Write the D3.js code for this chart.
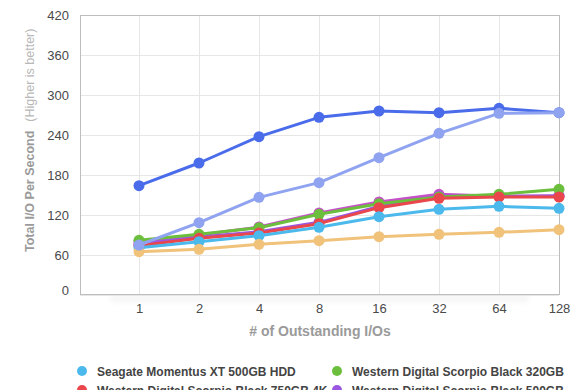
<!DOCTYPE html>
<html><head><meta charset="utf-8">
<script src="https://cdn.jsdelivr.net/npm/d3@7"></script>
<style>
html,body{margin:0;padding:0;background:#fff;}
svg{display:block;font-family:"Liberation Sans",Arial,Helvetica,sans-serif;}
</style></head>
<body><svg id="c" width="580" height="390"></svg>
<script>
const categories = ["1","2","4","8","16","32","64","128"];
const yTicks = [0,60,120,180,240,300,360,420];
const seriesNames = [
  "Seagate Momentus XT 500GB HDD",
  "Western Digital Scorpio Black 320GB",
  "Western Digital Scorpio Black 750GB 4K",
  "Western Digital Scorpio Black 500GB",
  "Seagate Momentus 7200.4 500GB",
  "Hitachi Travelstar 7K500 500GB",
  "Seagate Momentus XT 750GB SSHD",
  "Seagate Momentus XT 750GB (OS Cache)"
];
const seriesColors = ["#4cb9ec","#6cbf3c","#e9474b","#9b57e2","#f0c27a","#c64fca","#4a6cea","#8fa3f0"];
const seagateXT500 = [71, 80, 89, 101.5, 117.5, 128.5, 133, 130];
const wdBlack320   = [82, 91, 101, 121, 137, 147, 151, 158.5];
const wdBlack750   = [74, 85, 93, 107, 131, 145, 147, 147];
const wdBlack500   = [76, 87, 95, 109, 133, 148, 148, 149];
const momentus7200 = [65, 68.5, 76, 81.5, 87.5, 91, 94, 98];
const travelstar   = [80, 90, 102, 123, 139.5, 151, 148, 148];
const xt750        = [164, 198, 237.5, 266.5, 276, 273.5, 280, 273.5];
const xt750cache   = [75, 108.5, 146.5, 168.5, 206, 242.5, 272.5, 273.5];
const seriesValues = [seagateXT500, wdBlack320, wdBlack750, wdBlack500, momentus7200, travelstar, xt750, xt750cache];
const drawOrder = [5,3,1,2,0,4,6,7];

const svg = d3.select("#c");
const L=80, R=559, T=15, B=295;
const x = d3.scalePoint().domain(categories).range([139, 559]);
const y = d3.scaleLinear().domain([0,420]).range([B, T]);

// faint shadow under plot
const defs = svg.append("defs");
defs.append("filter").attr("id","blur").attr("x","-10%").attr("y","-200%").attr("width","120%").attr("height","500%")
  .append("feGaussianBlur").attr("stdDeviation","3");
svg.append("rect").attr("x",L+30).attr("y",B+1).attr("width",R-L-60).attr("height",5)
  .attr("fill","#000").attr("opacity",0.06).attr("filter","url(#blur)");

svg.append("rect").attr("x",L).attr("y",T).attr("width",R-L).attr("height",B-T).attr("fill","#fff");

// grid
const g = svg.append("g");
g.selectAll("line.h").data(yTicks).join("line")
  .attr("x1",L).attr("x2",R).attr("y1",d=>y(d)+0.5).attr("y2",d=>y(d)+0.5)
  .attr("stroke","#e6e6e6").attr("stroke-width",1);
g.selectAll("line.v").data(categories).join("line")
  .attr("x1",d=>x(d)+0.5).attr("x2",d=>x(d)+0.5).attr("y1",T).attr("y2",B)
  .attr("stroke","#e6e6e6").attr("stroke-width",1);
// frame
svg.append("rect").attr("x",L+0.5).attr("y",T+0.5).attr("width",R-L).attr("height",B-T-1)
  .attr("fill","none").attr("stroke","#bdbdbd").attr("stroke-width",1);

// axes
const yAxis = svg.append("g").attr("transform",`translate(${L},0)`)
  .call(d3.axisLeft(y).tickValues(yTicks).tickSize(0).tickPadding(11));
yAxis.select(".domain").remove();
yAxis.selectAll("text").attr("font-size",13).attr("fill","#4a4a4a")
  .attr("font-family","Liberation Sans, Arial, sans-serif")
  .attr("dy", d => d===0 ? "-0.05em" : "0.32em");

const xAxis = svg.append("g").attr("transform",`translate(0,${B})`)
  .call(d3.axisBottom(x).tickSize(0).tickPadding(9));
xAxis.select(".domain").remove();
xAxis.selectAll("text").attr("font-size",13).attr("fill","#4a4a4a")
  .attr("font-family","Liberation Sans, Arial, sans-serif");

// axis titles
svg.append("text").attr("x",320).attr("y",336).attr("text-anchor","middle")
  .attr("font-size",14).attr("font-weight","bold").attr("fill","#9a9a9a")
  .text("# of Outstanding I/Os");
const yt = svg.append("text").attr("transform","translate(34,252) rotate(-90)")
  .attr("text-anchor","start");
yt.append("tspan").attr("font-size",12.5).attr("font-weight","bold").attr("fill","#9a9a9a").text("Total I/O Per Second");
yt.append("tspan").attr("dx",9).attr("font-size",12.5).attr("fill","#b8b8b8").text("(Higher is better)");

// series
const line = d3.line().x((d,i)=>x(categories[i])).y(d=>y(d));
drawOrder.forEach(si=>{
  const s = svg.append("g");
  s.append("path").datum(seriesValues[si]).attr("d",line)
    .attr("fill","none").attr("stroke",seriesColors[si]).attr("stroke-width",3)
    .attr("stroke-linejoin","round");
  s.selectAll("circle").data(seriesValues[si]).join("circle")
    .attr("cx",(d,i)=>x(categories[i])).attr("cy",d=>y(d)).attr("r",5.5)
    .attr("fill",seriesColors[si]);
});

// legend
const lg = svg.append("g");
seriesNames.forEach((n,i)=>{
  const cx = i%2===0 ? 82 : 337;
  const cy = 371 + Math.floor(i/2)*19;
  lg.append("circle").attr("cx",cx).attr("cy",cy).attr("r",5).attr("fill",seriesColors[i]);
  lg.append("text").attr("x",cx+15).attr("y",cy+4.5).attr("font-size",12).attr("font-weight","bold")
    .attr("fill","#444").text(n);
});
</script></body></html>
